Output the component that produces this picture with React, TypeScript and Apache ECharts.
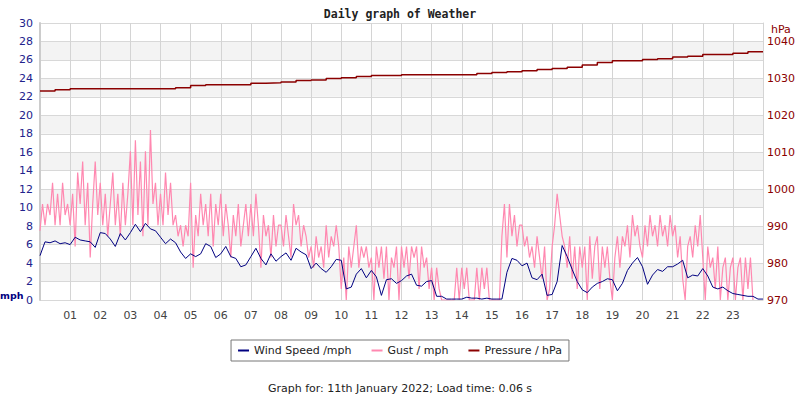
import React, { useEffect, useRef } from "react";
import * as echarts from "echarts";

// Wind speed (mph), one value every 10 minutes, 00:00 .. 24:00
const windSpeed: number[] = [
  4.8, 6.3, 6.2, 6.4, 6.1, 6.2,
  6.0, 6.8, 6.5, 6.4, 6.3, 5.7,
  7.3, 7.2, 6.6, 5.8, 7.2, 6.5,
  7.3, 8.2, 7.4, 8.3, 7.7, 7.5,
  6.8, 6.1, 6.6, 6.2, 5.2, 4.5,
  5.0, 4.7, 5.0, 6.1, 5.8, 4.6,
  5.0, 5.8, 4.7, 4.5, 3.6, 3.8,
  4.7, 5.6, 4.5, 3.8, 5.0, 4.2,
  4.7, 5.1, 4.3, 5.6, 5.2, 4.9,
  3.4, 4.0, 3.4, 3.0, 3.6, 4.4,
  4.3, 1.2, 1.4, 2.8, 3.4, 2.4,
  3.2, 2.5, 0.5, 2.2, 2.3, 1.8,
  2.1, 2.6, 2.8, 1.6, 1.5, 2.0,
  2.1, 0.4, 0.4, 0.1, 0.1, 0.1,
  0.1, 0.3, 0.2, 0.2, 0.1, 0.2,
  0.1, 0.1, 0.1, 3.0, 4.5, 4.3,
  3.7, 4.0, 2.4, 2.2, 2.8, 0.5,
  0.6, 2.0, 5.9, 4.7, 3.3, 2.0,
  1.1, 0.8, 1.4, 1.8, 2.0, 2.3,
  2.2, 1.0, 1.8, 3.2, 4.0, 4.6,
  3.6, 1.7, 2.7, 3.3, 3.1, 3.6,
  3.6, 3.9, 4.3, 2.4, 2.7, 2.6,
  3.4, 2.6, 1.4, 1.2, 1.4, 1.0,
  0.7, 0.6, 0.5, 0.4, 0.4, 0.1,
  0.1,
];

// Gust (mph), one value every 5 minutes
const gust: (number | null)[] = [
  7.5, 10.4, 8.1, 10.4, 9.2, 12.7, 8.1, 11.5, 8.1, 12.7, 9.2, 10.4,
  8.1, 11.5, 5.8, 13.8, 10.4, 15.0, 8.1, 12.7, 4.6, 10.4, 15.0, 9.2,
  12.7, 8.1, 11.5, 6.9, 10.4, 13.8, 8.1, 11.5, 6.9, 12.7, 8.1, 11.5,
  16.1, 8.1, 17.3, 9.2, 15.0, 6.9, 16.1, 8.1, 18.4, 10.4, 12.7, 8.1,
  11.5, 8.1, 13.8, 9.2, 12.7, 8.1, 9.2, 6.9, 8.1, 5.8, 8.1, 6.9,
  12.7, 3.5, 9.2, 6.9, 11.5, 8.1, 10.4, 6.9, 11.5, 5.8, 10.4, 8.1,
  11.5, 6.9, 10.4, 8.1, 4.6, 9.2, 6.9, 10.4, 5.8, 8.1, 10.4, 6.9,
  10.4, 6.9, 11.5, 8.1, 3.5, 9.2, 6.9, 8.1, 4.6, 9.2, 5.8, 8.1,
  8.1, 5.8, 9.2, 6.9, 4.6, 10.4, 8.1, 9.2, 5.8, 8.1, 6.9, 4.6,
  5.8, 3.5, 6.9, 4.6, 5.8, 3.5, 8.1, 4.6, 6.9, 5.8, 8.1, 5.8,
  1.2, 4.6, 0.0, 5.8, 3.5, 5.8, 8.1, 3.5, 5.8, 4.6, 5.8, 3.5,
  4.6, 0.0, 5.8, 3.5, 5.8, 2.3, 5.8, 0.0, 4.6, 3.5, 5.8, 0.0,
  5.8, 3.5, 5.8, 2.3, 5.8, 4.6, 5.8, 1.2, 5.8, 3.5, 4.6, 1.2,
  3.5, 0.0, 3.5, 1.2, 0.0, 0.0, 0.0, 0.0, 0.0, 0.0, 3.5, 0.0,
  3.5, 1.2, 3.5, 0.0, 0.0, 0.0, 3.5, 0.0, 3.5, 1.2, 3.5, 0.0,
  0.0, 0.0, 0.0, 0.0, 6.9, 10.4, 4.6, 10.4, 6.9, 9.2, 5.8, 8.1,
  8.1, 5.8, 6.9, 4.6, 5.8, 3.5, 6.9, 4.6, 2.3, 5.8, 0.0, 1.2,
  5.8, 8.1, 11.5, 9.2, 6.9, 5.8, 3.5, 6.9, 2.3, 5.8, 1.2, 5.8,
  3.5, 5.8, 0.0, 6.9, 2.3, 5.8, 6.9, 1.2, 5.8, 3.5, 5.8, 2.3,
  0.0, 4.6, 6.9, 3.5, 6.9, 5.8, 8.1, 4.6, 9.2, 6.9, 8.1, 5.8,
  4.6, 8.1, 5.8, 9.2, 6.9, 8.1, 5.8, 9.2, 6.9, 8.1, 5.8, 9.2,
  6.9, 8.1, 4.6, 6.9, 2.3, 0.0, 5.8, 6.9, 4.6, 8.1, 5.8, 9.2,
  4.6, 0.0, 5.8, 3.5, 4.6, 1.2, 5.8, 0.0, 3.5, 4.6, 0.0, 3.5,
  4.6, 0.0, 3.5, 4.6, 0.0, 4.6, 1.2, 4.6, 0.0, null, null, null,
];

// Pressure (hPa), one value every 30 minutes
const pressure: number[] = [
  1026.6, 1026.9, 1027.2, 1027.2, 1027.2, 1027.2, 1027.2, 1027.2,
  1027.2, 1027.5, 1028.1, 1028.3, 1028.3, 1028.3, 1028.7, 1028.8,
  1029.0, 1029.4, 1029.6, 1030.0, 1030.2, 1030.5, 1030.8, 1030.8,
  1031.0, 1031.0, 1031.0, 1031.0, 1031.0, 1031.3, 1031.6, 1031.8,
  1032.1, 1032.4, 1032.7, 1033.0, 1033.6, 1034.3, 1034.8, 1034.8,
  1035.1, 1035.3, 1035.8, 1036.0, 1036.5, 1036.5, 1036.8, 1037.2,
  1037.2,
];

const hourLabels: string[] = [
  "", "01", "02", "03", "04", "05", "06", "07", "08", "09", "10", "11", "12",
  "13", "14", "15", "16", "17", "18", "19", "20", "21", "22", "23", "",
];

const legendNames = ["Wind Speed /mph", "Gust / mph", "Pressure / hPa"];

const FONT = "DejaVu Sans";

export default function App() {
  const ref = useRef<HTMLDivElement>(null);

  useEffect(() => {
    if (!ref.current) return;
    const chart = echarts.init(ref.current, undefined, { renderer: "svg" });

    const option: any = {
      animation: false,
      backgroundColor: "#ffffff",
      textStyle: { fontFamily: FONT },
      title: {
        text: "Daily graph of Weather",
        left: "center",
        top: 3,
        textStyle: {
          fontFamily: "DejaVu Sans Mono",
          fontWeight: "bold",
          fontSize: 11.5,
          color: "#222222",
        },
      },
      grid: { left: 40, right: 37, top: 23, bottom: 100, containLabel: false },
      legend: {
        data: legendNames,
        top: 340,
        left: "center",
        icon: "rect",
        itemWidth: 11,
        itemHeight: 2,
        itemGap: 20,
        padding: [5, 7],
        borderColor: "#777777",
        borderWidth: 1,
        borderRadius: 0,
        textStyle: { fontFamily: FONT, fontSize: 11, color: "#222222" },
      },
      xAxis: {
        type: "value",
        min: 0,
        max: 24,
        interval: 1,
        axisLine: { show: false },
        axisTick: { show: false },
        axisLabel: {
          color: "#444444",
          fontFamily: FONT,
          fontSize: 11,
          margin: 10,
          formatter: (v: number) => hourLabels[Math.round(v)] ?? "",
        },
        splitLine: { show: true, lineStyle: { color: "#d4d4d4", width: 1 } },
      },
      yAxis: [
        {
          type: "value",
          min: 0,
          max: 30,
          interval: 2,
          position: "left",
          axisLine: { show: true, lineStyle: { color: "#cccccc", width: 2 } },
          axisTick: { show: false },
          axisLabel: {
            color: "#22228c",
            fontFamily: FONT,
            fontSize: 11,
            margin: 7,
            formatter: (v: number) => String(v),
          },
          splitLine: { show: true, lineStyle: { color: "#d8d8d8", width: 1 } },
          splitArea: { show: true, areaStyle: { color: ["#ffffff", "#f3f3f3"] } },
        },
        {
          type: "value",
          min: 970,
          max: 1045,
          interval: 10,
          position: "right",
          axisLine: { show: true, lineStyle: { color: "#d4d4d4", width: 1 } },
          axisTick: { show: false },
          axisLabel: {
            color: "#8b0000",
            fontFamily: FONT,
            fontSize: 11,
            margin: 4,
            showMaxLabel: false,
            formatter: (v: number) => (v > 1040 ? "" : String(v)),
          },
          splitLine: { show: false },
        },
      ],
      series: [
        {
          name: "Gust / mph",
          type: "line",
          data: gust.map((v, j) => [j / 12, v]),
          showSymbol: false,
          symbol: "none",
          connectNulls: false,
          lineStyle: { color: "#ff88b0", width: 1.2 },
          itemStyle: { color: "#ff88b0" },
          z: 2,
        },
        {
          name: "Wind Speed /mph",
          type: "line",
          data: windSpeed.map((v, i) => [i / 6, v]),
          showSymbol: false,
          symbol: "none",
          lineStyle: { color: "#000080", width: 1 },
          itemStyle: { color: "#000080" },
          z: 3,
        },
        {
          name: "Pressure / hPa",
          type: "line",
          yAxisIndex: 1,
          step: "end",
          data: pressure.map((v, k) => [k / 2, v]),
          showSymbol: false,
          symbol: "none",
          lineStyle: { color: "#8b0000", width: 1.5 },
          itemStyle: { color: "#8b0000" },
          z: 4,
        },
      ],
      graphic: [
        {
          type: "text",
          left: 0,
          top: 290,
          style: { text: "mph", fill: "#000080", font: `bold 9.5px '${FONT}'` },
        },
        {
          type: "text",
          left: 771,
          top: 24,
          style: { text: "hPa", fill: "#8b0000", font: `11px '${FONT}'` },
        },
        {
          type: "text",
          left: "center",
          top: 383,
          style: {
            text: "Graph for: 11th January 2022; Load time: 0.06 s",
            fill: "#222222",
            font: `11px '${FONT}'`,
          },
        },
      ],
    };

    chart.setOption(option);
    return () => chart.dispose();
  }, []);

  return (
    <div
      ref={ref}
      style={{ position: "fixed", left: 0, top: 0, width: 800, height: 400 }}
    />
  );
}
